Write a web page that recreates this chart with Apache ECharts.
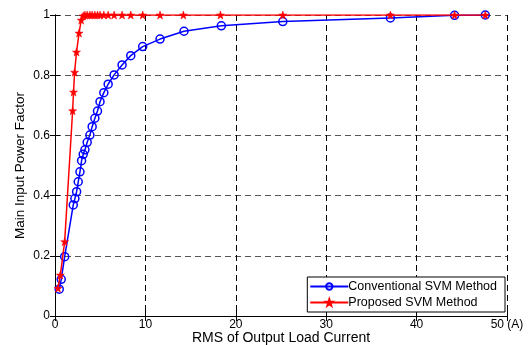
<!DOCTYPE html>
<html>
<head>
<meta charset="utf-8">
<script src="https://cdn.jsdelivr.net/npm/echarts@6/dist/echarts.min.js"></script>
<style>
  html, body { margin: 0; padding: 0; background: #fff; }
  #chart { width: 531px; height: 345px; }
</style>
</head>
<body>
<div id="chart"></div>
<script>
// RMS output load current (A) and main input power factor for each modulation method
const conventionalCurrent = [0.47, 0.69, 1.07, 2.02, 2.2, 2.39, 2.57, 2.76, 2.94, 3.12, 3.31, 3.56, 3.86, 4.11, 4.41, 4.7, 4.98, 5.4, 5.88, 6.54, 7.42, 8.38, 9.7, 11.62, 14.27, 18.4, 25.2, 37.1, 44.2, 47.6];
const conventionalPF = [0.089, 0.122, 0.197, 0.369, 0.39, 0.413, 0.446, 0.479, 0.516, 0.537, 0.552, 0.577, 0.601, 0.629, 0.657, 0.681, 0.712, 0.742, 0.77, 0.801, 0.834, 0.865, 0.895, 0.92, 0.946, 0.964, 0.978, 0.99, 0.999, 1.0];

const proposedCurrent = [0.33, 0.59, 1.07, 1.95, 2.05, 2.17, 2.38, 2.66, 2.9, 3.12, 3.31, 3.56, 3.86, 4.11, 4.41, 4.7, 4.98, 5.4, 5.88, 6.54, 7.42, 8.38, 9.7, 11.62, 14.2, 18.3, 25.2, 37.1, 44.2, 47.6];
const proposedPF = [0.092, 0.136, 0.247, 0.682, 0.744, 0.81, 0.877, 0.94, 0.983, 0.997, 1, 1, 1, 1, 1, 1, 1, 1, 1, 1, 1, 1, 1, 1, 1, 1, 1, 1, 1, 1];

const seriesNames = ['Conventional SVM Method', 'Proposed SVM Method'];
const xTicks = [0, 10, 20, 30, 40, 50];
const yTicks = [0, 0.2, 0.4, 0.6, 0.8, 1];

const zip = (xs, ys) => xs.map((x, i) => [x, ys[i]]);
const STAR = 'path://M0,-10L2.35,-3.24L9.51,-3.09L3.8,1.24L5.88,8.09L0,4L-5.88,8.09L-3.8,1.24L-9.51,-3.09L-2.35,-3.24Z';
const FONT = '"Liberation Sans", Arial, sans-serif';

const chart = echarts.init(document.getElementById('chart'), null, { renderer: 'canvas' });

// mirrored frame axes (top / right) carrying inward ticks only
const frameAxis = () => ({
  axisLine: { show: true, lineStyle: { color: '#000', width: 1 } },
  axisTick: { show: true, inside: true, length: 5, lineStyle: { color: '#000' } },
  axisLabel: { show: false },
  splitLine: { show: false }
});

chart.setOption({
  animation: false,
  backgroundColor: '#fff',
  grid: { left: 55, right: 24, top: 15, bottom: 29, containLabel: false, outerBoundsMode: 'none' },
  legend: {
    orient: 'vertical',
    right: 26,
    bottom: 33,
    backgroundColor: '#fff',
    borderColor: '#000',
    borderWidth: 1,
    padding: [3, 8, 3, 2],
    itemGap: 3,
    itemWidth: 38,
    itemHeight: 8,
    textStyle: { fontFamily: FONT, fontSize: 12.5, color: '#000', padding: [0, 0, 0, -5] },
    data: seriesNames
  },
  xAxis: [
    Object.assign(frameAxis(), {
      type: 'value', min: xTicks[0], max: xTicks[xTicks.length - 1], interval: 10,
      position: 'bottom',
      name: 'RMS of Output Load Current',
      nameLocation: 'middle', nameGap: 15, nameMoveOverlap: false,
      nameTextStyle: { fontFamily: FONT, fontSize: 14, color: '#000' },
      axisLabel: {
        show: true, fontFamily: FONT, fontSize: 12, color: '#000', margin: 3,
        formatter: v => (v === xTicks[xTicks.length - 1] ? v + ' (A)' : String(v))
      },
      splitLine: { show: true, lineStyle: { color: '#000', type: [6, 4], width: 1 } }
    }),
    Object.assign(frameAxis(), { type: 'value', min: 0, max: 50, interval: 10, position: 'top' })
  ],
  yAxis: [
    Object.assign(frameAxis(), {
      type: 'value', min: yTicks[0], max: yTicks[yTicks.length - 1], interval: 0.2,
      position: 'left',
      name: 'Main Input Power Factor',
      nameLocation: 'middle', nameGap: 28, nameRotate: 90, nameMoveOverlap: false,
      nameTextStyle: { fontFamily: FONT, fontSize: 13.5, color: '#000' },
      axisLabel: {
        show: true, fontFamily: FONT, fontSize: 12, color: '#000', margin: 5,
        formatter: v => String(+v.toFixed(1))
      },
      splitLine: { show: true, lineStyle: { color: '#555', type: [6, 4], width: 1 } }
    }),
    Object.assign(frameAxis(), { type: 'value', min: 0, max: 1, interval: 0.2, position: 'right' })
  ],
  series: [
    {
      name: seriesNames[0],
      type: 'line',
      xAxisIndex: 0, yAxisIndex: 0,
      data: zip(conventionalCurrent, conventionalPF),
      symbol: 'circle',
      symbolSize: 8,
      color: '#0000ff',
      lineStyle: { color: '#0000ff', width: 1.5 },
      itemStyle: { color: 'rgba(255,255,255,0)', borderColor: '#0000ff', borderWidth: 1.5 },
      z: 2
    },
    {
      name: seriesNames[1],
      type: 'line',
      xAxisIndex: 0, yAxisIndex: 0,
      data: zip(proposedCurrent, proposedPF),
      symbol: STAR,
      symbolSize: 8,
      color: '#ff0000',
      lineStyle: { color: '#ff0000', width: 1.5 },
      itemStyle: { color: '#ff0000', borderColor: '#ff0000', borderWidth: 0.5 },
      z: 3
    }
  ]
});
</script>
</body>
</html>
